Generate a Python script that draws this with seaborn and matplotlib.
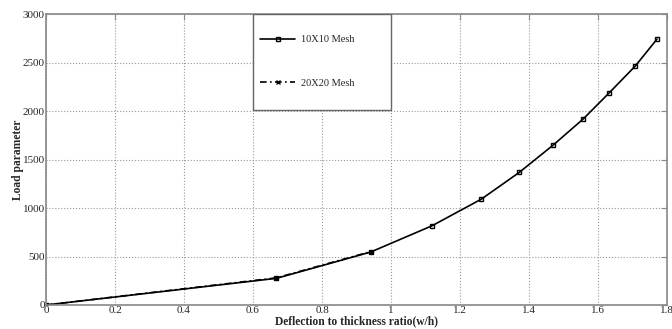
import numpy as np
import pandas as pd
import matplotlib
matplotlib.use("Agg")
import matplotlib.pyplot as plt
from matplotlib.patches import Rectangle
import seaborn as sns

# data
ratio_10 = [0.0, 0.668, 0.941, 1.119, 1.262, 1.372, 1.470, 1.557, 1.632, 1.708, 1.771]
load_10 = [0, 275, 546, 817, 1092, 1368, 1649, 1918, 2186, 2464, 2742]
ratio_20 = [0.0, 0.668, 0.941]
load_20 = [0, 280, 550]

sns.set_style("white")
plt.rcParams['font.family'] = ['Liberation Serif', 'DejaVu Serif']

fig = plt.figure(figsize=(6.72, 3.29), dpi=100)
ax = fig.add_axes([0.0685, 0.073, 0.924, 0.884])

df10 = pd.DataFrame({'x': ratio_10, 'y': load_10})
df20 = pd.DataFrame({'x': ratio_20, 'y': load_20})

sns.lineplot(data=df10, x='x', y='y', ax=ax, color='black', lw=1.2,
             marker='s', markersize=3.5, markerfacecolor='none',
             markeredgecolor='black', markeredgewidth=1.0, label='10X10 Mesh')
sns.lineplot(data=df20, x='x', y='y', ax=ax, color='black', lw=1.2,
             linestyle=(0, (4, 2, 1, 2)), marker='x', markersize=3.5,
             markeredgecolor='black', markeredgewidth=1.0, label='20X20 Mesh')

ax.set_xlim(0, 1.8)
ax.set_ylim(0, 3000)
ax.set_xticks(np.arange(0, 1.81, 0.2))
ax.set_xticklabels(['0', '0.2', '0.4', '0.6', '0.8', '1', '1.2', '1.4', '1.6', '1.8'])
ax.set_yticks(np.arange(0, 3001, 500))
ax.grid(True, linestyle=':', color='#999999', lw=0.8)
for s in ax.spines.values():
    s.set_color('#888888')
    s.set_linewidth(1.2)
ax.tick_params(direction='in', length=4, width=0.8, color='#888888',
               top=True, right=True, labelsize=8, pad=1)

ax.set_xlabel('Deflection to thickness ratio(w/h)', fontsize=8.3, fontweight='bold', labelpad=0)
ax.set_ylabel('Load parameter', fontsize=8.3, fontweight='bold', labelpad=-1)

# legend box drawn separately (MATLAB-like asymmetric padding)
ax.add_patch(Rectangle((0.3333, 0.670), 0.2223, 0.330, transform=ax.transAxes,
                       facecolor='white', edgecolor='#666666', lw=1.0, zorder=5))
leg = ax.legend(loc='upper left', bbox_to_anchor=(0.3446, 0.928), fontsize=7.5,
                frameon=False, handlelength=3.4, labelspacing=3.3,
                borderpad=0, borderaxespad=0, handletextpad=0.5)
leg.set_zorder(6)

fig.savefig('out.png', dpi=100)
